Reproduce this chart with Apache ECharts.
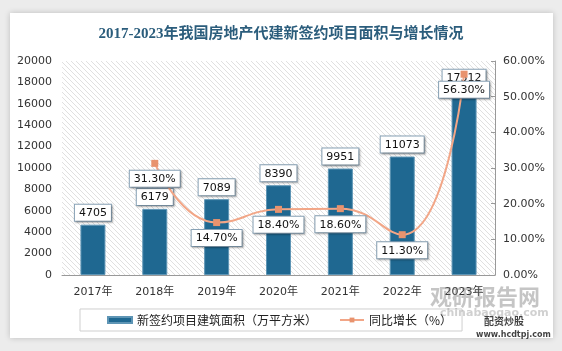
<!DOCTYPE html>
<html><head><meta charset="utf-8">
<script src="https://cdn.jsdelivr.net/npm/echarts@6/dist/echarts.min.js"></script>
<style>html,body{margin:0;padding:0;background:#ececec;}#c{width:562px;height:351px;}</style>
</head><body><div id="c"></div>
<script>
const categories = ['2017年','2018年','2019年','2020年','2021年','2022年','2023年'];
const areaValues = [4705, 6179, 7089, 8390, 9951, 11073, 17312];
const growthValues = [null, 31.3, 14.7, 18.4, 18.6, 11.3, 56.3];
const leftTicks = {min: 0, max: 20000, interval: 2000};
const rightTicks = {min: 0, max: 60, interval: 10};

// hatch pattern
const pc = document.createElement('canvas');
pc.width = 5; pc.height = 5;
const px = pc.getContext('2d');
px.fillStyle = '#ffffff'; px.fillRect(0,0,5,5);
px.strokeStyle = '#e0e0e0'; px.lineWidth = 1;
px.beginPath(); px.moveTo(0,0); px.lineTo(5,5); px.moveTo(-2.5,2.5); px.lineTo(2.5,7.5); px.moveTo(2.5,-2.5); px.lineTo(7.5,2.5); px.stroke();

const chart = echarts.init(document.getElementById('c'), null, {renderer:'canvas'});
const boxLabel = {
  show: true, color: '#111', fontSize: 11, fontFamily: 'DejaVu Sans, Noto Sans',
  backgroundColor: '#fff', borderColor: '#8aa4b8', borderWidth: 1, padding: [3,4,2,4],
  shadowColor: 'rgba(0,0,0,0.25)', shadowBlur: 2, shadowOffsetX: 1, shadowOffsetY: 1
};
chart.setOption({
  animation: false,
  backgroundColor: '#ececec',
  graphic: [
    {type:'rect', z:-10, shape:{x:10,y:13,width:543,height:325}, style:{fill:'#fff', shadowColor:'rgba(0,0,0,0.2)', shadowBlur:6}},
    {type:'text', z:10, left: 430, top: 286, style:{text:'观研报告网', fill:'rgba(110,110,110,0.4)', font:'bold 22px "Noto Sans CJK SC"'}},
    {type:'text', z:10, left: 440, top: 308, style:{text:'chinabaogao.com', fill:'rgba(120,120,120,0.35)', font:'bold 11px "DejaVu Sans"'}},
    {type:'text', z:10, left: 484, top: 316, style:{text:'配资炒股', fill:'rgba(30,30,30,0.85)', font:'bold 10px "Noto Sans CJK SC"'}},
    {type:'text', z:10, left: 476, top: 331, style:{text:'www.hcdtpj.com', fill:'rgba(30,30,30,0.85)', font:'bold 8px "DejaVu Sans"'}}
  ],
  title: {
    text: '2017-2023年我国房地产代建新签约项目面积与增长情况',
    left: 'center', top: 22,
    textStyle: {color:'#2b5d7c', fontSize: 15, fontWeight: 'bold', fontFamily: 'Liberation Serif, Noto Sans CJK SC'}
  },
  grid: {left: 62, right: 67, top: 61, bottom: 76, show: true, borderWidth: 0,
    backgroundColor: {image: pc, repeat: 'repeat'}},
  legend: {
    bottom: 20, left: 80, width: 398, height: 24,
    itemGap: 22, padding: [5, 10, 5, 27],
    borderColor: '#cfcfcf', borderWidth: 1,
    textStyle: {fontSize: 12, color:'#222', fontFamily:'Noto Sans CJK SC'},
    data: [
      {name:'新签约项目建筑面积（万平方米）', icon:'rect', itemStyle:{color:'#1f6891'}},
      {name:'同比增长（%）'}
    ],
    itemWidth: 24, itemHeight: 6
  },
  xAxis: {
    type: 'category', data: categories,
    axisLine: {lineStyle:{color:'#999'}}, axisTick:{show:false},
    axisLabel: {color:'#333', fontSize: 11, margin: 12, fontFamily:'DejaVu Sans, Noto Sans CJK SC'}
  },
  yAxis: [
    {type:'value', min:leftTicks.min, max:leftTicks.max, interval:leftTicks.interval,
     splitLine:{show:false}, axisLine:{show:false}, axisTick:{show:false},
     axisLabel:{color:'#333', fontSize:11, margin:10, fontFamily:'DejaVu Sans', formatter: v => String(v)}},
    {type:'value', min:rightTicks.min, max:rightTicks.max, interval:rightTicks.interval,
     splitLine:{show:false}, axisLine:{show:true, lineStyle:{color:'#999'}},
     axisTick:{show:true, inside:true, length:4, lineStyle:{color:'#999'}},
     axisLabel:{color:'#333', fontSize:11, margin:8, fontFamily:'DejaVu Sans', formatter: v => v.toFixed(2)+'%'}}
  ],
  series: [
    {name:'新签约项目建筑面积（万平方米）', type:'bar', data: areaValues, barWidth: 25,
     itemStyle:{color:'#1f6891', borderColor:'#5e95b5', borderWidth:1},
     label: Object.assign({}, boxLabel, {position:'top', distance: 4})},
    {name:'同比增长（%）', type:'line', yAxisIndex:1, data: growthValues, smooth: true,
     symbol:'rect', symbolSize: 7, connectNulls: false,
     lineStyle:{color:'#f2a687', width:2}, itemStyle:{color:'#e8936e'},
     label: Object.assign({}, boxLabel, {position:'bottom', distance: 4, formatter: p => p.value.toFixed(2)+'%'})}
  ]
});
</script></body></html>
